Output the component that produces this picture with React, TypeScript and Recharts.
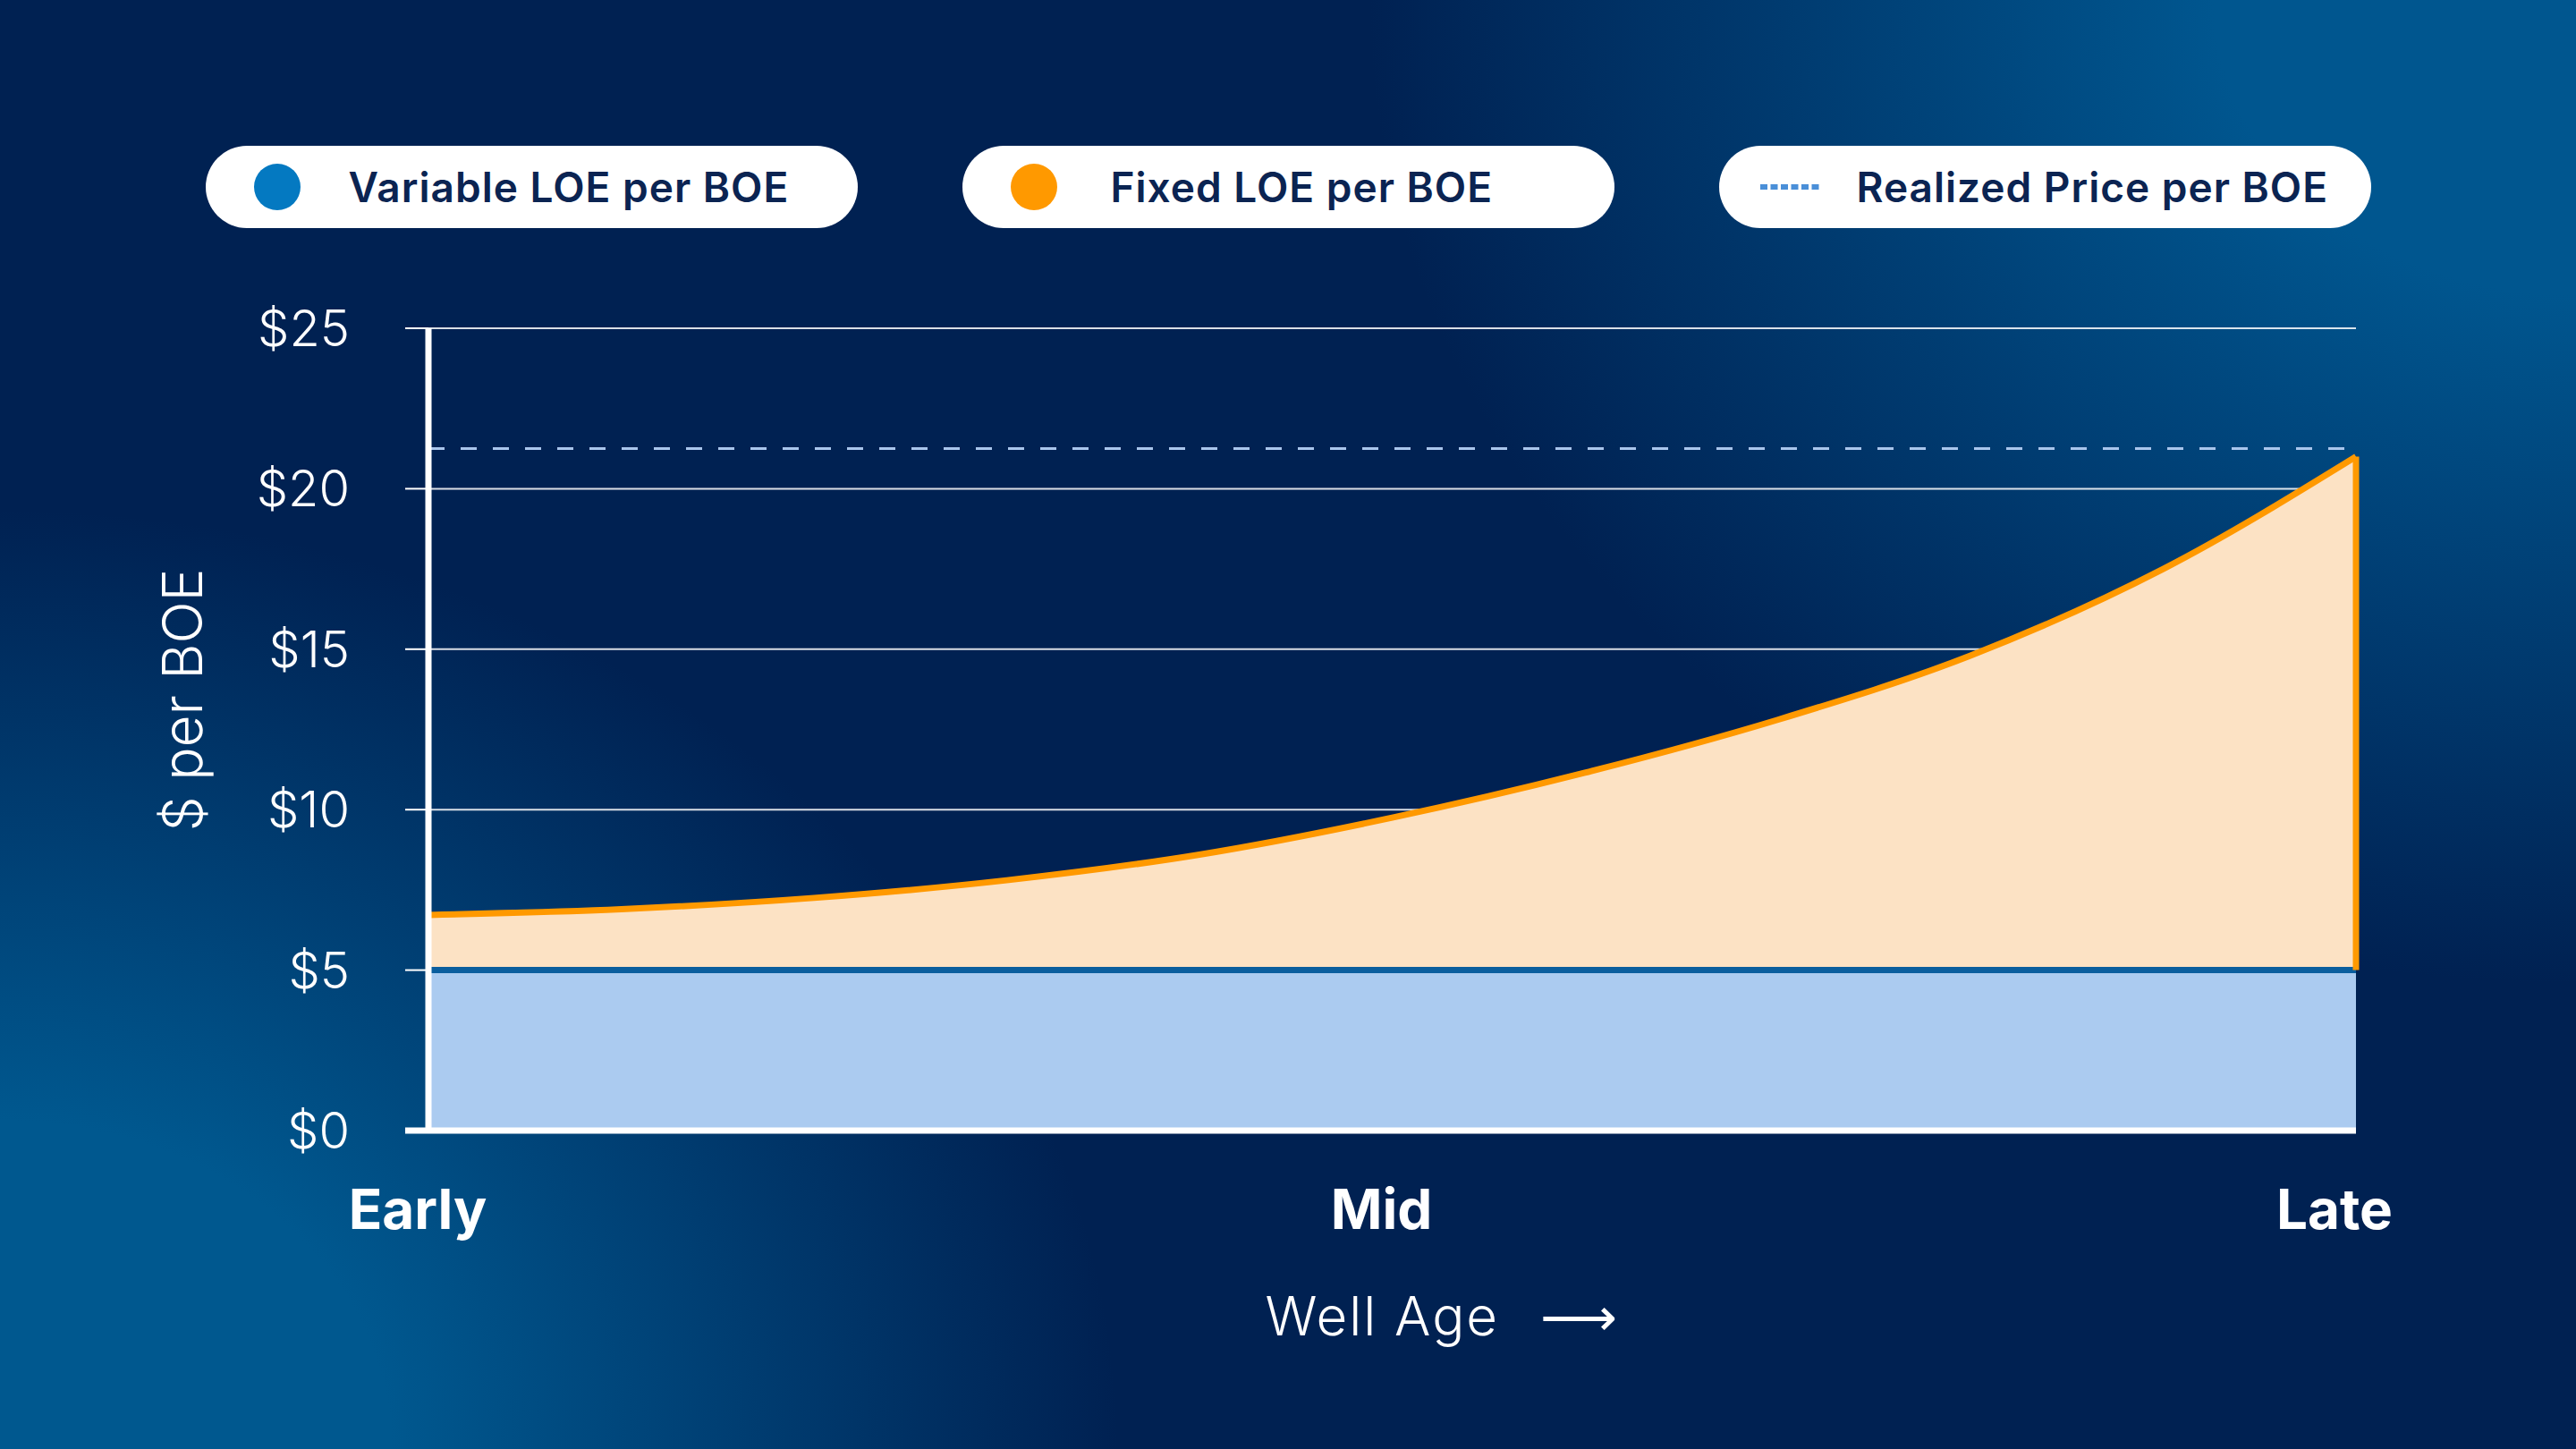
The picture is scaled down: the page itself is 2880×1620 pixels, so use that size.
import {
  ComposedChart,
  Area,
  Line,
  XAxis,
  YAxis,
  CartesianGrid,
  ReferenceLine,
  Legend,
  Label,
} from "recharts";

// well age position (0 = early, 1 = late)
const wellAge = [0, 0.1, 0.2, 0.3, 0.4, 0.5, 0.6, 0.7, 0.8, 0.9, 1];
const variableLoe = [5, 5, 5, 5, 5, 5, 5, 5, 5, 5, 5];
const fixedLoe = [1.72, 1.9, 2.25, 2.8, 3.6, 4.75, 6.15, 7.8, 9.8, 12.5, 16.0];
const realizedPrice = [21.25, 21.25, 21.25, 21.25, 21.25, 21.25, 21.25, 21.25, 21.25, 21.25, 21.25];

const ageTicks = [0, 0.5, 1];
const ageLabels = ["Early", "Mid", "Late"];
const priceTicks = [0, 5, 10, 15, 20, 25];
const seriesNames = ["Variable LOE per BOE", "Fixed LOE per BOE", "Realized Price per BOE"];

const data = wellAge.map((age, i) => ({
  age,
  variable: variableLoe[i],
  fixed: fixedLoe[i],
  realized: realizedPrice[i],
}));

const last = wellAge.length - 1;
const FONT = "Inter, 'Noto Sans', sans-serif";

function YTick({ x, y, payload }: any) {
  return (
    <g>
      <line x1={x + 62} x2={x + 88} y1={y} y2={y} stroke="#fff" strokeWidth={payload.value === 0 ? 7 : 2} />
      <text x={x} y={y} dy={20} textAnchor="end" fill="#fff" fontSize={56} fontWeight={300} fontFamily={FONT}>
        ${payload.value}
      </text>
    </g>
  );
}

function XTick({ x, y, payload }: any) {
  const label = ageLabels[ageTicks.indexOf(payload.value)];
  return (
    <text
      x={x}
      y={y}
      dx={payload.value === 1 ? -24 : -12}
      textAnchor="middle"
      fill="#fff"
      fontSize={62}
      fontWeight={700}
      fontFamily={FONT}
    >
      {label}
    </text>
  );
}

function renderLegend() {
  const markers = [
    <span key="a" style={{ width: 52, height: 52, borderRadius: 26, background: "#0479c1", marginRight: 54 }} />,
    <span key="b" style={{ width: 52, height: 52, borderRadius: 26, background: "#ff9900", marginRight: 60 }} />,
    <svg key="c" width={68} height={8} style={{ marginRight: 40 }}>
      <line x1={0} x2={68} y1={4} y2={4} stroke="#4a8fd8" strokeWidth={6} strokeDasharray="8 3.5" />
    </svg>,
  ];
  return (
    <div style={{ display: "flex", justifyContent: "center", gap: 117 }}>
      {seriesNames.map((name, i) => (
        <div
          key={name}
          style={{
            width: 729,
            height: 92,
            borderRadius: 46,
            background: "#fff",
            display: "flex",
            alignItems: "center",
            paddingLeft: i === 2 ? 46 : 54,
            boxSizing: "border-box",
          }}
        >
          {markers[i]}
          <span style={{ fontFamily: FONT, fontSize: 46, fontWeight: 600, color: "#0b2452", letterSpacing: 1 }}>{name}</span>
        </div>
      ))}
    </div>
  );
}

export default function App() {
  return (
    <div
      style={{
        position: "absolute",
        left: 0,
        top: 0,
        width: 2880,
        height: 1620,
        overflow: "hidden",
        background:
          "radial-gradient(ellipse 1350px 1100px at 2880px 0px, #00568f 0%, #00568f 30%, rgba(0,33,82,0) 100%), radial-gradient(ellipse 1250px 1050px at 0px 1620px, #00588f 0%, #00588f 35%, rgba(0,33,82,0) 100%), #002152",
      }}
    >
      <ComposedChart width={2880} height={1620} data={data} margin={{ top: 367, right: 246, bottom: 0, left: 0 }}>
        <CartesianGrid horizontal vertical={false} stroke="#ffffff" strokeOpacity={0.85} strokeWidth={2} />
        <XAxis
          dataKey="age"
          type="number"
          domain={[0, 1]}
          ticks={ageTicks}
          interval={0}
          height={356}
          axisLine={{ stroke: "#ffffff", strokeWidth: 7 }}
          tickLine={false}
          tickSize={0}
          tickMargin={110}
          tick={<XTick />}
        >
          <Label
            content={({ viewBox }: any) => {
              const cx = viewBox.x + viewBox.width / 2;
              return (
                <text
                  x={cx - 142}
                  y={viewBox.y + 229}
                  fill="#fff"
                  fontSize={60}
                  fontWeight={300}
                  letterSpacing={2}
                  fontFamily={FONT}
                >
                  Well Age
                  <tspan dx={46} fontFamily="'DejaVu Sans', sans-serif" fontSize={60} letterSpacing={0}>⟶</tspan>
                </text>
              );
            }}
          />
        </XAxis>
        <YAxis
          type="number"
          domain={[0, 25]}
          ticks={priceTicks}
          interval={0}
          width={479}
          axisLine={{ stroke: "#ffffff", strokeWidth: 7 }}
          tickLine={false}
          tickSize={26}
          tickMargin={62}
          tick={<YTick />}
        >
          <Label
            content={({ viewBox }: any) => {
              const cx = 226;
              const cy = viewBox.y + viewBox.height / 2 - 33;
              return (
                <text
                  x={cx}
                  y={cy}
                  transform={`rotate(-90, ${cx}, ${cy})`}
                  textAnchor="middle"
                  fill="#fff"
                  fontSize={62}
                  fontWeight={300}
                  fontFamily={FONT}
                >
                  $ per BOE
                </text>
              );
            }}
          />
        </YAxis>
        <Legend
          layout="horizontal"
          verticalAlign="middle"
          align="center"
          wrapperStyle={{ top: 163, left: 0, width: 2880 }}
          content={renderLegend}
        />
        <Area
          dataKey="variable"
          stackId="loe"
          type="linear"
          fill="#abcbf0"
          fillOpacity={1}
          stroke="none"
          isAnimationActive={false}
        />
        <Area
          dataKey="fixed"
          stackId="loe"
          type="monotone"
          fill="#fce2c4"
          fillOpacity={1}
          stroke="#ff9900"
          strokeWidth={7}
          isAnimationActive={false}
        />
        <Line dataKey="variable" type="linear" stroke="#0a5e9e" strokeWidth={7} dot={false} isAnimationActive={false} />
        <Line
          dataKey="realized"
          type="linear"
          stroke="#a9c6ec"
          strokeWidth={3}
          strokeDasharray="18 18"
          dot={false}
          isAnimationActive={false}
        />
        <ReferenceLine
          segment={[
            { x: wellAge[last], y: variableLoe[last] },
            { x: wellAge[last], y: variableLoe[last] + fixedLoe[last] },
          ]}
          stroke="#ff9900"
          strokeWidth={7}
        />
      </ComposedChart>
    </div>
  );
}
